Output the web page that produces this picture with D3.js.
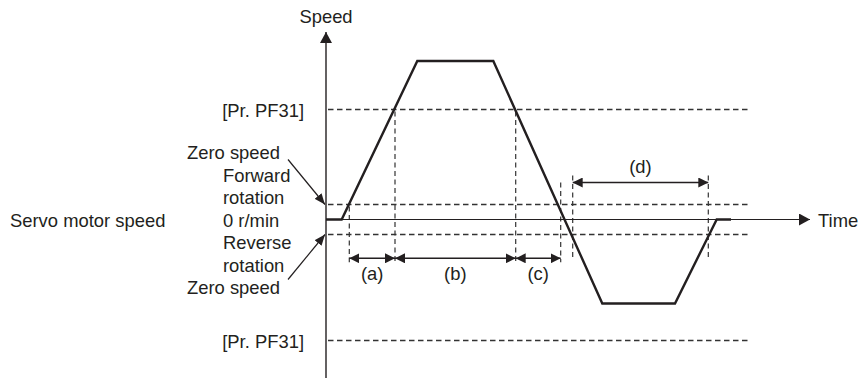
<!DOCTYPE html>
<html>
<head>
<meta charset="utf-8">
<script src="https://cdn.jsdelivr.net/npm/d3@7"></script>
<style>
  html, body { margin: 0; padding: 0; background: #fff; }
  svg { display: block; }
  text { font-family: "Liberation Sans", Arial, sans-serif; font-size: 18.4px; fill: #231f20; }
</style>
</head>
<body>
<svg id="chart" width="858" height="378"></svg>
<script>
// --- données ---
// profil de vitesse : temps (unités arbitraires) et vitesse
const profileTime  = [0, 15.7, 91.3, 167.3, 276.3, 349, 390.7, 405];
const profileSpeed = [0, 0, 158.5, 158.5, -84, -84, 0, 0];

// niveaux de seuil (lignes pointillées horizontales)
const levelLabels = ["[Pr. PF31]", "", "", "[Pr. PF31]"];
const levelValues = [110, 15, -15, -121];

// intervalles cotés
const spanLabels = ["(a)", "(b)", "(c)", "(d)"];
const spanStart  = [23.3, 69, 189.7, 246.7];
const spanEnd    = [69, 189.7, 234.7, 382.3];

// textes de gauche
const sideLabels = ["Zero speed", "Forward", "rotation", "0 r/min", "Reverse", "rotation", "Zero speed"];
const axisTitles = ["Speed", "Time", "Servo motor speed"];

(function() {
  const svg = d3.select("#chart");
  const ink = "#231f20";

  // échelles : 1 unité ~ 1 px
  const x = d3.scaleLinear().domain([0, 484]).range([326, 810]);
  const y = d3.scaleLinear().domain([-158.5, 187.5]).range([378, 32]);

  // --- marqueurs de flèches ---
  const defs = svg.append("defs");
  function marker(id, len, half) {
    defs.append("marker")
      .attr("id", id)
      .attr("viewBox", `0 0 ${len} ${half * 2}`)
      .attr("refX", len)
      .attr("refY", half)
      .attr("markerUnits", "userSpaceOnUse")
      .attr("markerWidth", len)
      .attr("markerHeight", half * 2)
      .attr("orient", "auto-start-reverse")
      .append("path")
      .attr("d", `M0,0L${len},${half}L0,${half * 2}Z`)
      .attr("fill", ink);
  }
  marker("axisHead", 11, 6);
  marker("dimHead", 10, 5);
  marker("ptrHead", 11, 4.5);

  // --- lignes de seuil pointillées ---
  svg.append("g")
    .selectAll("line")
    .data(levelValues)
    .join("line")
    .attr("x1", x(2))
    .attr("x2", x(424))
    .attr("y1", d => y(d))
    .attr("y2", d => y(d))
    .attr("stroke", "#333")
    .attr("stroke-width", 1.3)
    .attr("stroke-dasharray", "5.5,3.5");

  svg.append("g")
    .selectAll("text")
    .data(levelValues.map((v, i) => ({ v, label: levelLabels[i] })).filter(d => d.label))
    .join("text")
    .attr("x", 304)
    .attr("y", d => y(d.v) + 7)
    .attr("text-anchor", "end")
    .text(d => d.label);

  // --- repères verticaux des intervalles ---
  const rowY = 258.3; // ligne de cotes (a)(b)(c)
  const dRowY = 182.5; // ligne de cote (d)
  const guideTops = [y(levelValues[1]) + 2, y(levelValues[0]) + 2, y(levelValues[0]) + 2, dRowY];
  const guides = [
    { t: spanStart[0], top: guideTops[0], bottom: rowY + 4 },
    { t: spanStart[1], top: guideTops[1], bottom: rowY + 4 },
    { t: spanStart[2], top: guideTops[2], bottom: rowY + 4 },
    { t: spanEnd[2], top: guideTops[3], bottom: rowY + 4 },
    { t: spanStart[3], top: dRowY - 7, bottom: y(levelValues[2]) + 23 },
    { t: spanEnd[3], top: dRowY - 7, bottom: y(levelValues[2]) + 23 }
  ];
  svg.append("g")
    .selectAll("line")
    .data(guides)
    .join("line")
    .attr("x1", d => x(d.t))
    .attr("x2", d => x(d.t))
    .attr("y1", d => d.top)
    .attr("y2", d => d.bottom)
    .attr("stroke", "#333")
    .attr("stroke-width", 1.2)
    .attr("stroke-dasharray", "5,3.5");

  // --- cotes avec flèches ---
  const spans = spanLabels.map((label, i) => ({
    label,
    t0: spanStart[i],
    t1: spanEnd[i],
    row: i < 3 ? rowY : dRowY
  }));
  svg.append("g")
    .selectAll("line")
    .data(spans)
    .join("line")
    .attr("x1", d => x(d.t0))
    .attr("x2", d => x(d.t1))
    .attr("y1", d => d.row)
    .attr("y2", d => d.row)
    .attr("stroke", ink)
    .attr("stroke-width", 1.5)
    .attr("marker-start", "url(#dimHead)")
    .attr("marker-end", "url(#dimHead)");

  svg.append("g")
    .selectAll("text")
    .data(spans)
    .join("text")
    .attr("x", d => (x(d.t0) + x(d.t1)) / 2)
    .attr("y", d => (d.row === rowY ? d.row + 22 : d.row - 10))
    .attr("text-anchor", "middle")
    .text(d => d.label);

  // --- axes ---
  svg.append("line")
    .attr("x1", x(0)).attr("x2", x(0))
    .attr("y1", y(-158.5)).attr("y2", y(187.5))
    .attr("stroke", ink)
    .attr("stroke-width", 1.4)
    .attr("marker-end", "url(#axisHead)");

  svg.append("line")
    .attr("x1", x(0)).attr("x2", x(484))
    .attr("y1", y(0)).attr("y2", y(0))
    .attr("stroke", ink)
    .attr("stroke-width", 1.2)
    .attr("marker-end", "url(#axisHead)");

  svg.append("text")
    .attr("x", x(0))
    .attr("y", 23)
    .attr("text-anchor", "middle")
    .text(axisTitles[0]);

  svg.append("text")
    .attr("x", x(484) + 8)
    .attr("y", y(0) + 7)
    .text(axisTitles[1]);

  svg.append("text")
    .attr("x", 10)
    .attr("y", y(0) + 7)
    .text(axisTitles[2]);

  // --- textes de gauche ---
  svg.append("g")
    .selectAll("text")
    .data(sideLabels)
    .join("text")
    .attr("x", d => (d === "Zero speed" ? 187 : 223))
    .attr("y", (d, i) => y(0) + 7 + (i - 3) * 22.5)
    .text(d => d);

  // flèches vers les seuils de vitesse nulle
  const tipX = x(0) - 1;
  [levelValues[1], levelValues[2]].forEach(v => {
    const ty = y(v);
    const sy = v > 0 ? ty - 45 : ty + 45;
    svg.append("line")
      .attr("x1", 288)
      .attr("y1", sy)
      .attr("x2", tipX)
      .attr("y2", ty)
      .attr("stroke", ink)
      .attr("stroke-width", 1.2)
      .attr("marker-end", "url(#ptrHead)");
  });

  // --- profil de vitesse ---
  const line = d3.line()
    .x(d => x(d[0]))
    .y(d => y(d[1]));
  svg.append("path")
    .datum(d3.zip(profileTime, profileSpeed))
    .attr("d", line)
    .attr("fill", "none")
    .attr("stroke", ink)
    .attr("stroke-width", 2.4)
    .attr("stroke-linejoin", "miter");
})();
</script>
</body>
</html>
